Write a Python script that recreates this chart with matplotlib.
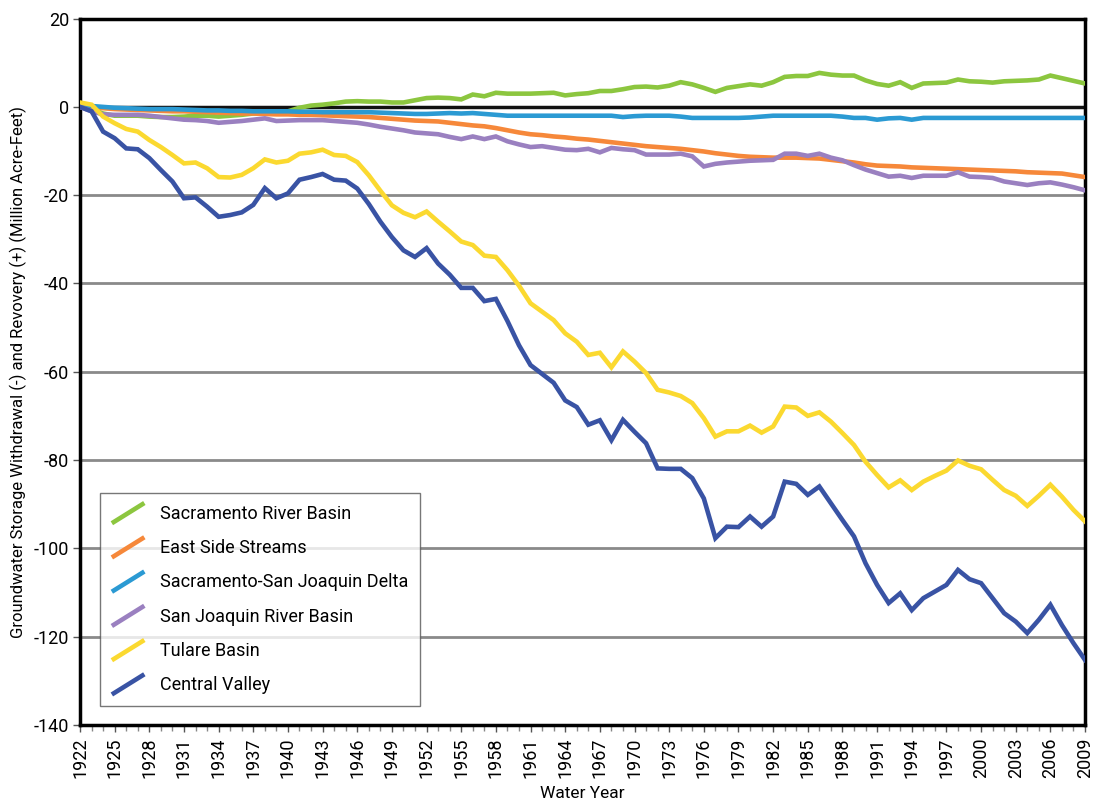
import numpy as np
import matplotlib
matplotlib.use("Agg")
import matplotlib.pyplot as plt
from matplotlib.lines import Line2D
from matplotlib.legend_handler import HandlerBase
from matplotlib.ticker import MultipleLocator

plt.rcParams["font.family"] = ["Roboto", "DejaVu Sans"]
plt.rcParams["axes.unicode_minus"] = False

years = list(range(1922, 2010))

sacramento = [
    0, -0.5, -1.5, -2, -2, -2, -2.2, -2.3, -2.3, -2.2,
    -2, -2, -2.2, -2, -1.8, -1.5, -1.5, -1.3, -1, -0.2,
    0.3, 0.5, 0.8, 1.2, 1.3, 1.2, 1.2, 1.0, 1.0, 1.5,
    2, 2.1, 2.0, 1.7, 2.8, 2.4, 3.2, 3.0, 3.0, 3.0,
    3.1, 3.2, 2.6, 2.9, 3.1, 3.6, 3.6, 4.0, 4.5, 4.6,
    4.4, 4.8, 5.6, 5.1, 4.3, 3.4, 4.3, 4.7, 5.1, 4.8,
    5.6, 6.8, 7.0, 7.0, 7.7, 7.3, 7.1, 7.1, 6.0, 5.2,
    4.8, 5.6, 4.3, 5.3, 5.4, 5.5, 6.2, 5.8, 5.7, 5.5,
    5.8, 5.9, 6.0, 6.2, 7.1, 6.5, 5.9, 5.3,
]
east_side = [
    0.5, 0, -0.3, -0.5, -0.6, -0.7, -0.8, -0.9, -1.0, -1.0,
    -1.1, -1.2, -1.3, -1.4, -1.5, -1.5, -1.6, -1.7, -1.7, -1.8,
    -1.8, -1.9, -2.0, -2.1, -2.2, -2.3, -2.5, -2.7, -2.9, -3.1,
    -3.2, -3.3, -3.6, -3.9, -4.2, -4.4, -4.8, -5.3, -5.8, -6.2,
    -6.4, -6.7, -6.9, -7.2, -7.4, -7.7, -8.0, -8.3, -8.6, -8.9,
    -9.1, -9.3, -9.5, -9.8, -10.1, -10.5, -10.8, -11.1, -11.3, -11.4,
    -11.5, -11.5, -11.5, -11.6, -11.7, -12.0, -12.3, -12.6, -13.0, -13.3,
    -13.4, -13.5, -13.7, -13.8, -13.9, -14.0, -14.1, -14.2, -14.3, -14.4,
    -14.5, -14.6, -14.8, -14.9, -15.0, -15.1, -15.5, -15.9,
]
delta = [
    0.3, 0.2, 0, -0.2, -0.3, -0.4, -0.5, -0.5, -0.5, -0.6,
    -0.7, -0.8, -0.8, -0.9, -0.9, -1.0, -1.0, -1.0, -1.0, -1.1,
    -1.1, -1.2, -1.2, -1.2, -1.2, -1.2, -1.3, -1.4, -1.5, -1.6,
    -1.6, -1.5, -1.4, -1.5, -1.4, -1.6, -1.8, -2.0, -2.0, -2.0,
    -2.0, -2.0, -2.0, -2.0, -2.0, -2.0, -2.0, -2.3, -2.1, -2.0,
    -2.0, -2.0, -2.2, -2.5, -2.5, -2.5, -2.5, -2.5, -2.4, -2.2,
    -2.0, -2.0, -2.0, -2.0, -2.0, -2.0, -2.2, -2.5, -2.5, -2.9,
    -2.6, -2.5, -2.9, -2.5, -2.5, -2.5, -2.5, -2.5, -2.5, -2.5,
    -2.5, -2.5, -2.5, -2.5, -2.5, -2.5, -2.5, -2.5,
]
san_joaquin = [
    0, -1.0, -1.7, -1.8, -1.8, -1.8, -2.0, -2.3, -2.6, -2.9,
    -3.0, -3.2, -3.6, -3.4, -3.2, -2.9, -2.6, -3.2, -3.1, -3.0,
    -3.0, -3.0, -3.2, -3.4, -3.6, -4.0, -4.5, -4.9, -5.3, -5.8,
    -6.0, -6.2, -6.8, -7.3, -6.7, -7.3, -6.7, -7.8, -8.5, -9.1,
    -8.9, -9.3, -9.7, -9.8, -9.5, -10.3, -9.3, -9.6, -9.8, -10.8,
    -10.8, -10.8, -10.6, -11.2, -13.5, -12.9, -12.6, -12.4, -12.2, -12.1,
    -12.0, -10.6, -10.6, -11.1, -10.6, -11.5, -12.1, -13.2, -14.2, -15.0,
    -15.8, -15.6, -16.1, -15.6, -15.6, -15.6, -14.8, -15.8, -15.9, -16.1,
    -16.9, -17.3, -17.7, -17.3, -17.1, -17.6, -18.2, -18.9,
]
tulare = [
    1, 0.5, -2.2, -3.7, -5, -5.6, -7.5, -9.1, -10.9, -12.8,
    -12.6, -13.9, -15.9, -16, -15.4, -13.9, -11.9, -12.6, -12.2, -10.6,
    -10.3, -9.7, -10.9, -11.1, -12.5, -15.5, -19, -22.3, -24, -25,
    -23.7, -26, -28.2, -30.5, -31.3, -33.7, -34, -37, -40.5, -44.5,
    -46.4, -48.3, -51.3, -53.2, -56.2, -55.7, -59, -55.4, -57.7, -60.3,
    -64.1, -64.7, -65.5, -67.1, -70.5, -74.7, -73.5, -73.5, -72.2, -73.8,
    -72.4, -67.9, -68.1, -70, -69.2, -71.3, -73.9, -76.6, -80.4, -83.4,
    -86.2, -84.6, -86.8, -84.9, -83.6, -82.4, -80.1, -81.3, -82.1, -84.5,
    -86.8, -88.1, -90.4, -88.1, -85.6, -88.3, -91.3, -93.9,
]
central_valley = [
    0, -1, -5.6, -7.1, -9.4, -9.6, -11.6, -14.3, -16.9, -20.7,
    -20.5, -22.6, -24.9, -24.5, -23.9, -22.2, -18.4, -20.7, -19.6, -16.5,
    -15.9, -15.2, -16.5, -16.7, -18.5, -22, -26, -29.5, -32.5, -34,
    -32, -35.5, -38, -41, -41, -44, -43.5, -48.5, -54, -58.5,
    -60.5, -62.5, -66.5, -68, -72, -71, -75.5, -70.9, -73.6, -76.2,
    -81.9, -82, -82, -84.1, -88.7, -97.7, -95.1, -95.2, -92.8, -95.1,
    -92.8, -84.9, -85.4, -87.9, -86, -89.8, -93.6, -97.3, -103.4, -108.3,
    -112.4, -110.2, -114, -111.3, -109.8, -108.3, -104.9, -107, -107.9, -111.3,
    -114.7, -116.6, -119.2, -116.2, -112.8, -117.4, -121.5, -125.3,
]

series = [
    ("Sacramento River Basin", sacramento, "#8cc63f"),
    ("East Side Streams", east_side, "#f6883a"),
    ("Sacramento-San Joaquin Delta", delta, "#2b9ad3"),
    ("San Joaquin River Basin", san_joaquin, "#9a80c0"),
    ("Tulare Basin", tulare, "#fbd930"),
    ("Central Valley", central_valley, "#3953a4"),
]


class DiagonalHandler(HandlerBase):
    # excel-style slanted legend keys
    def create_artists(self, legend, orig_handle, xdescent, ydescent,
                       width, height, fontsize, trans):
        x0 = -xdescent
        y0 = -ydescent
        line = Line2D([x0, x0 + width], [y0 - 0.35 * height, y0 + 1.25 * height],
                      color=orig_handle.get_color(),
                      linewidth=orig_handle.get_linewidth(),
                      solid_capstyle="butt", transform=trans)
        return [line]


fig = plt.figure(figsize=(10.96, 8.09), dpi=100)
ax = fig.add_axes([0.073, 0.104, 0.917, 0.873])

for v in [-20, -40, -60, -80, -100, -120]:
    ax.axhline(v, color="#8a8a8a", linewidth=2.0, zorder=1)
ax.axhline(0, color="#111111", linewidth=2.5, zorder=1)

handles = []
for name, vals, col in series:
    (ln,) = ax.plot(years, vals, color=col, linewidth=3.3, label=name,
                    solid_joinstyle="miter", zorder=3)
    handles.append(ln)

ax.set_xlim(1922, 2009)
ax.set_ylim(-140, 20)
ax.xaxis.set_minor_locator(MultipleLocator(1))
ax.yaxis.set_major_locator(MultipleLocator(20))
ax.set_xticks(list(range(1922, 2010, 3)))
ax.set_xticklabels([str(y) for y in range(1922, 2010, 3)], rotation=90)
ax.tick_params(axis="x", which="major", labelsize=13, length=5, width=1, color="#555555", pad=4)
ax.tick_params(axis="x", which="minor", length=4, width=1, color="#888888")
ax.tick_params(axis="y", labelsize=13, length=5, width=1, color="#555555", pad=3)

for sp in ax.spines.values():
    sp.set_linewidth(2.5)
    sp.set_color("black")

ax.set_xlabel("Water Year", fontsize=12.5, labelpad=6)
ax.set_ylabel("Groundwater Storage Withdrawal (-) and Revovery (+) (Million Acre-Feet)",
              fontsize=12, labelpad=5)

leg = ax.legend(handles=handles, loc="lower left", bbox_to_anchor=(0.02, 0.027),
                handler_map={Line2D: DiagonalHandler()}, fontsize=13,
                frameon=True, fancybox=False, edgecolor="#555555",
                handlelength=1.8, handletextpad=0.85, labelspacing=0.9,
                borderpad=0.65, borderaxespad=0)
leg.get_frame().set_linewidth(1.0)

fig.savefig("out.png", dpi=100)
